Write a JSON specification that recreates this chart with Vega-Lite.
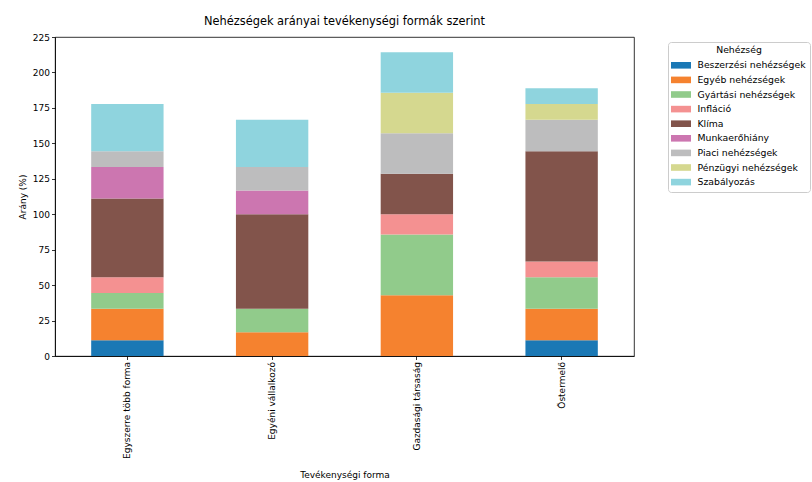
{
  "$schema": "https://vega.github.io/schema/vega-lite/v6.json",
  "width": 579,
  "height": 319,
  "autosize": {"type": "none"},
  "padding": {"left": 55, "top": 37, "right": 178, "bottom": 126},
  "background": "white",
  "title": {
    "text": "Nehézségek arányai tevékenységi formák szerint",
    "font": "DejaVu Sans",
    "fontSize": 11.4,
    "fontWeight": "normal",
    "color": "black",
    "offset": 6
  },
  "config": {
    "font": "DejaVu Sans",
    "view": {"stroke": "black", "strokeWidth": 0.8},
    "axis": {
      "labelFont": "DejaVu Sans",
      "titleFont": "DejaVu Sans",
      "labelFontSize": 9,
      "titleFontSize": 9,
      "titleFontWeight": "normal",
      "labelColor": "black",
      "titleColor": "black",
      "domainColor": "black",
      "domainWidth": 0.8,
      "tickColor": "black",
      "tickWidth": 0.8,
      "tickSize": 3.5,
      "labelPadding": 2,
      "grid": false
    }
  },
  "data": {
    "values": [
      {"forma": "Egyszerre több forma", "nehezseg": "Beszerzési nehézségek", "arany": 11.11},
      {"forma": "Egyszerre több forma", "nehezseg": "Egyéb nehézségek", "arany": 22.22},
      {"forma": "Egyszerre több forma", "nehezseg": "Gyártási nehézségek", "arany": 11.11},
      {"forma": "Egyszerre több forma", "nehezseg": "Infláció", "arany": 11.11},
      {"forma": "Egyszerre több forma", "nehezseg": "Klíma", "arany": 55.56},
      {"forma": "Egyszerre több forma", "nehezseg": "Munkaerőhiány", "arany": 22.22},
      {"forma": "Egyszerre több forma", "nehezseg": "Piaci nehézségek", "arany": 11.11},
      {"forma": "Egyszerre több forma", "nehezseg": "Szabályozás", "arany": 33.33},
      {"forma": "Egyéni vállalkozó", "nehezseg": "Egyéb nehézségek", "arany": 16.67},
      {"forma": "Egyéni vállalkozó", "nehezseg": "Gyártási nehézségek", "arany": 16.67},
      {"forma": "Egyéni vállalkozó", "nehezseg": "Klíma", "arany": 66.67},
      {"forma": "Egyéni vállalkozó", "nehezseg": "Munkaerőhiány", "arany": 16.67},
      {"forma": "Egyéni vállalkozó", "nehezseg": "Piaci nehézségek", "arany": 16.67},
      {"forma": "Egyéni vállalkozó", "nehezseg": "Szabályozás", "arany": 33.33},
      {"forma": "Gazdasági társaság", "nehezseg": "Egyéb nehézségek", "arany": 42.86},
      {"forma": "Gazdasági társaság", "nehezseg": "Gyártási nehézségek", "arany": 42.86},
      {"forma": "Gazdasági társaság", "nehezseg": "Infláció", "arany": 14.29},
      {"forma": "Gazdasági társaság", "nehezseg": "Klíma", "arany": 28.57},
      {"forma": "Gazdasági társaság", "nehezseg": "Piaci nehézségek", "arany": 28.57},
      {"forma": "Gazdasági társaság", "nehezseg": "Pénzügyi nehézségek", "arany": 28.57},
      {"forma": "Gazdasági társaság", "nehezseg": "Szabályozás", "arany": 28.57},
      {"forma": "Őstermelő", "nehezseg": "Beszerzési nehézségek", "arany": 11.11},
      {"forma": "Őstermelő", "nehezseg": "Egyéb nehézségek", "arany": 22.22},
      {"forma": "Őstermelő", "nehezseg": "Gyártási nehézségek", "arany": 22.22},
      {"forma": "Őstermelő", "nehezseg": "Infláció", "arany": 11.11},
      {"forma": "Őstermelő", "nehezseg": "Klíma", "arany": 77.78},
      {"forma": "Őstermelő", "nehezseg": "Piaci nehézségek", "arany": 22.22},
      {"forma": "Őstermelő", "nehezseg": "Pénzügyi nehézségek", "arany": 11.11},
      {"forma": "Őstermelő", "nehezseg": "Szabályozás", "arany": 11.11}
    ]
  },
  "mark": {"type": "bar"},
  "encoding": {
    "x": {
      "field": "forma",
      "type": "nominal",
      "sort": ["Egyszerre több forma", "Egyéni vállalkozó", "Gazdasági társaság", "Őstermelő"],
      "scale": {"paddingInner": 0.5, "paddingOuter": 0.25},
      "axis": {"title": "Tevékenységi forma", "labelAngle": -90, "titlePadding": 12}
    },
    "y": {
      "field": "arany",
      "type": "quantitative",
      "stack": "zero",
      "scale": {"domain": [0, 225], "nice": false},
      "axis": {"title": "Arány (%)", "values": [0, 25, 50, 75, 100, 125, 150, 175, 200, 225], "titlePadding": 5}
    },
    "color": {
      "field": "nehezseg",
      "type": "nominal",
      "scale": {
        "domain": ["Beszerzési nehézségek", "Egyéb nehézségek", "Gyártási nehézségek", "Infláció", "Klíma", "Munkaerőhiány", "Piaci nehézségek", "Pénzügyi nehézségek", "Szabályozás"],
        "range": ["#1a78b5", "#f5822f", "#91cb8b", "#f49191", "#82544b", "#cc76b0", "#bdbdbe", "#d5d88f", "#8fd4de"]
      },
      "legend": {
        "title": "Nehézség",
        "orient": "none",
        "legendX": 613,
        "legendY": 5,
        "titleFont": "DejaVu Sans",
        "titleFontSize": 9.3,
        "titleFontWeight": "normal",
        "titleColor": "black",
        "titleAnchor": "middle",
        "titlePadding": 4,
        "labelFont": "DejaVu Sans",
        "labelFontSize": 9.3,
        "labelColor": "black",
        "labelOffset": 13.5,
        "symbolType": "M-1.17,-0.55H2.17V0.55H-1.17Z",
        "symbolSize": 144,
        "symbolStrokeWidth": 0,
        "symbolOpacity": 1,
        "rowPadding": 2.6,
        "padding": 4,
        "strokeColor": "#cccccc",
        "fillColor": "white",
        "cornerRadius": 3
      }
    },
    "order": {"field": "nehezseg", "sort": "ascending"}
  }
}
